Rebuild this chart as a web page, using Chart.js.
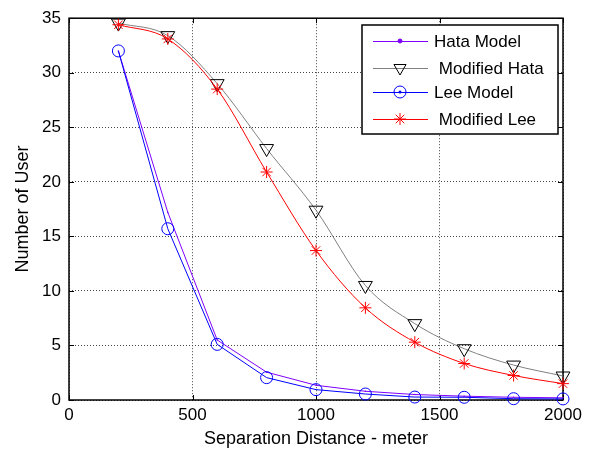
<!DOCTYPE html>
<html>
<head>
<meta charset="utf-8">
<title>Number of User vs Separation Distance</title>
<script src="https://cdn.jsdelivr.net/npm/chart.js@4.4.1/dist/chart.umd.min.js"></script>
<style>
    html, body { margin: 0; padding: 0; background: #fff; }
    #wrap { width: 589px; height: 450px; position: relative; }
</style>
</head>
<body>
<div id="wrap"><canvas id="chart" width="589" height="450"></canvas></div>
<script>
// separation distance in meters
const distances = [200, 400, 600, 800, 1000, 1200, 1400, 1600, 1800, 2000];

// number of users per model
const hataModel    = [32.0, 17.2, 5.5, 2.55, 1.35, 0.8, 0.5, 0.35, 0.25, 0.2];
const modifiedHata = [34.55, 33.4, 29.0, 23.05, 17.4, 10.5, 7.0, 4.7, 3.2, 2.2];
const leeModel     = [32.0, 15.7, 5.1, 2.05, 0.95, 0.55, 0.27, 0.25, 0.12, 0.1];
const modifiedLee  = [34.4, 33.1, 28.5, 20.9, 13.7, 8.45, 5.3, 3.35, 2.25, 1.5];

const seriesNames = ['Hata Model', ' Modified Hata', 'Lee Model', ' Modified Lee'];

const xTicks = [0, 500, 1000, 1500, 2000];
const yTicks = [0, 5, 10, 15, 20, 25, 30, 35];

const FONT = '"Liberation Sans", Arial, sans-serif';

const toPoints = (values) => values.map((v, i) => ({x: distances[i], y: v}));

// box around the axes plus small inward tick marks on all four sides
const axesBox = {
    id: 'axesBox',
    beforeDatasetsDraw(chart) {
        const {ctx, chartArea: a, scales: {x, y}} = chart;
        const tick = 5;
        ctx.save();
        ctx.strokeStyle = '#000';
        ctx.lineWidth = 1;
        ctx.beginPath();
        xTicks.forEach(v => {
            const px = Math.round(x.getPixelForValue(v)) + 0.5;
            ctx.moveTo(px, a.bottom); ctx.lineTo(px, a.bottom - tick);
            ctx.moveTo(px, a.top); ctx.lineTo(px, a.top + tick);
        });
        yTicks.forEach(v => {
            const py = Math.round(y.getPixelForValue(v)) + 0.5;
            ctx.moveTo(a.left, py); ctx.lineTo(a.left + tick, py);
            ctx.moveTo(a.right, py); ctx.lineTo(a.right - tick, py);
        });
        ctx.stroke();
        ctx.lineWidth = 1.5;
        ctx.strokeRect(a.left, a.top, a.right - a.left, a.bottom - a.top);
        ctx.restore();
    }
};

// legend box in the upper right corner
const boxLegend = {
    id: 'boxLegend',
    afterDraw(chart) {
        const {ctx} = chart;
        const left = 362, top = 25, width = 196, height = 109;
        const rows = [41, 68, 92, 119];
        ctx.save();
        ctx.fillStyle = '#fff';
        ctx.fillRect(left, top, width, height);
        ctx.strokeStyle = '#000';
        ctx.lineWidth = 1.5;
        ctx.strokeRect(left, top, width, height);

        chart.data.datasets.forEach((ds, i) => {
            const y = rows[i];
            ctx.strokeStyle = ds.borderColor;
            ctx.lineWidth = 1;
            ctx.beginPath();
            ctx.moveTo(373, y + 0.5);
            ctx.lineTo(428, y + 0.5);
            ctx.stroke();

            ctx.strokeStyle = ds.pointBorderColor;
            ctx.fillStyle = ds.pointBackgroundColor;
            Chart.helpers.drawPoint(ctx, {
                pointStyle: ds.pointStyle,
                rotation: ds.pointRotation || 0,
                radius: ds.legendRadius,
                borderWidth: 1
            }, 400, y);
            if (ds.legendDot) {
                ctx.fillStyle = ds.pointBorderColor;
                ctx.beginPath();
                ctx.arc(400, y, 1.5, 0, Math.PI * 2);
                ctx.fill();
            }

            ctx.fillStyle = '#000';
            ctx.font = '17px ' + FONT;
            ctx.textBaseline = 'middle';
            ctx.textAlign = 'left';
            ctx.fillText(ds.label, 434, y + 1);
        });
        ctx.restore();
    }
};

new Chart(document.getElementById('chart'), {
    type: 'line',
    data: {
        datasets: [
            {
                label: seriesNames[0],
                data: toPoints(hataModel),
                borderColor: '#8000ff',
                borderWidth: 1,
                pointStyle: 'circle',
                pointRadius: 0.8,
                pointBorderWidth: 0,
                legendRadius: 2,
                pointBorderColor: '#8000ff',
                pointBackgroundColor: '#8000ff',
                order: 3
            },
            {
                label: seriesNames[1],
                data: toPoints(modifiedHata),
                borderColor: '#808080',
                borderWidth: 1,
                cubicInterpolationMode: 'monotone',
                pointStyle: 'triangle',
                pointRotation: 180,
                pointRadius: 8,
                legendRadius: 7,
                pointBorderColor: '#000',
                pointBackgroundColor: 'rgba(0,0,0,0)',
                order: 2
            },
            {
                label: seriesNames[2],
                data: toPoints(leeModel),
                borderColor: '#0000ff',
                borderWidth: 1,
                pointStyle: 'circle',
                pointRadius: 6,
                legendRadius: 6,
                legendDot: true,
                pointBorderColor: '#0000ff',
                pointBackgroundColor: 'rgba(0,0,0,0)',
                order: 1
            },
            {
                label: seriesNames[3],
                data: toPoints(modifiedLee),
                borderColor: '#ff0000',
                borderWidth: 1,
                cubicInterpolationMode: 'monotone',
                pointStyle: 'star',
                pointRadius: 6,
                legendRadius: 6,
                pointBorderColor: '#ff0000',
                pointBackgroundColor: '#ff0000',
                order: 0
            }
        ]
    },
    options: {
        responsive: false,
        animation: false,
        events: [],
        clip: false,
        layout: {padding: {top: 15, right: 26, left: 0, bottom: 0}},
        plugins: {
            legend: {display: false},
            tooltip: {enabled: false}
        },
        scales: {
            x: {
                type: 'linear',
                min: 0,
                max: 2000,
                afterBuildTicks: s => { s.ticks = xTicks.map(v => ({value: v})); },
                afterFit: s => { s.height = 50; },
                grid: {color: '#444', lineWidth: 1, drawTicks: false},
                border: {display: false, dash: [1, 2]},
                ticks: {
                    color: '#000',
                    padding: 5,
                    maxRotation: 0,
                    font: {family: FONT, size: 17},
                    callback: v => String(v)
                },
                title: {
                    display: true,
                    text: 'Separation Distance - meter',
                    color: '#000',
                    padding: {top: 0, bottom: 0},
                    font: {family: FONT, size: 18}
                }
            },
            y: {
                type: 'linear',
                min: 0,
                max: 35,
                afterBuildTicks: s => { s.ticks = yTicks.map(v => ({value: v})); },
                afterFit: s => { s.width = 69; },
                grid: {color: '#444', lineWidth: 1, drawTicks: false},
                border: {display: false, dash: [1, 2]},
                ticks: {
                    color: '#000',
                    padding: 8,
                    font: {family: FONT, size: 17},
                    callback: v => String(v)
                },
                title: {
                    display: true,
                    text: 'Number of User',
                    color: '#000',
                    padding: {top: 12, bottom: 0},
                    font: {family: FONT, size: 18}
                }
            }
        }
    },
    plugins: [axesBox, boxLegend]
});
</script>
</body>
</html>
